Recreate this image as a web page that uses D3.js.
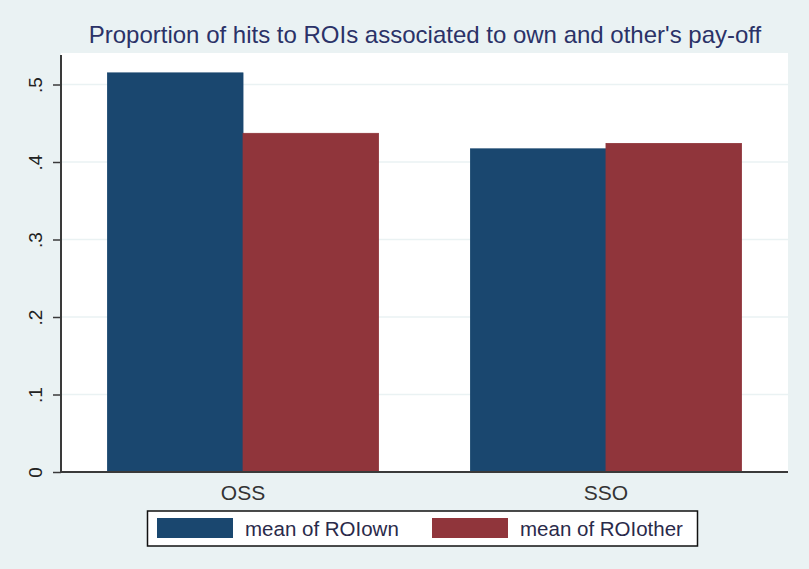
<!DOCTYPE html>
<html><head><meta charset="utf-8">
<script src="https://cdn.jsdelivr.net/npm/d3@7"></script>
<style>body{margin:0;background:#eaf2f3;}svg{display:block;}</style>
</head><body>
<svg id="c" width="809" height="569"></svg>
<script>
const title = "Proportion of hits to ROIs associated to own and other's pay-off";
const categories = ["OSS", "SSO"];
const seriesNames = ["mean of ROIown", "mean of ROIother"];
const roiOwn = [0.515, 0.417];
const roiOther = [0.437, 0.424];
const yTicks = [0, 0.1, 0.2, 0.3, 0.4, 0.5];
const yTickLabels = ["0", ".1", ".2", ".3", ".4", ".5"];
const colors = ["#1a476f", "#90353b"];

const svg = d3.select("#c");
const W = 809, H = 569;
const plot = {l: 61, r: 788, t: 53, b: 472};
const FONT = "Liberation Sans, Arial, sans-serif";
svg.append("rect").attr("width", W).attr("height", H).attr("fill", "#eaf2f3");
svg.append("rect").attr("x", plot.l).attr("y", plot.t).attr("width", plot.r - plot.l).attr("height", plot.b - plot.t).attr("fill", "#ffffff");

const y = d3.scaleLinear().domain([0, 0.5]).range([plot.b, 84.5]);
const x0 = d3.scaleBand().domain(categories).range([plot.l, plot.r]).paddingInner(0.253).paddingOuter(0.128);
const x1 = d3.scaleBand().domain(seriesNames).range([0, x0.bandwidth()]);

// gridlines
svg.append("g").selectAll("line").data(yTicks.filter(d => d > 0)).join("line")
  .attr("x1", plot.l).attr("x2", plot.r).attr("y1", d => y(d)).attr("y2", d => y(d))
  .attr("stroke", "#eaf2f3").attr("stroke-width", 1.5);

// bars
const data = categories.map((c, i) => ({c, vals: [roiOwn[i], roiOther[i]]}));
const g = svg.append("g");
data.forEach(d => {
  d.vals.forEach((v, j) => {
    g.append("rect").attr("x", x0(d.c) + x1(seriesNames[j])).attr("y", y(v))
      .attr("width", x1.bandwidth()).attr("height", y(0) - y(v))
      .attr("fill", colors[j]).attr("stroke", colors[j]).attr("stroke-width", 0.8);
  });
});

// y axis
const yAxis = d3.axisLeft(y).tickValues(yTicks).tickFormat((d, i) => yTickLabels[i]).tickSize(8).tickPadding(0);
const ya = svg.append("g").attr("transform", `translate(${plot.l},0)`).call(yAxis);
ya.select(".domain").attr("d", `M0,${plot.t + 2}V${plot.b}`).attr("stroke", "#3a3a3a").attr("stroke-width", 2);
ya.selectAll(".tick line").attr("stroke", "#3a3a3a").attr("stroke-width", 1.5);
ya.selectAll(".tick text").attr("transform", "translate(-26,0) rotate(-90)").attr("x", 0).attr("dy", "0.35em")
  .attr("text-anchor", "middle").attr("font-family", FONT).attr("font-size", 19).attr("fill", "#222");

// x baseline
svg.append("line").attr("x1", plot.l).attr("x2", plot.r).attr("y1", plot.b).attr("y2", plot.b)
  .attr("stroke", "#3a3a3a").attr("stroke-width", 2);

// category labels
svg.append("g").selectAll("text").data(categories).join("text")
  .attr("x", d => x0(d) + x0.bandwidth() / 2).attr("y", 499.5).attr("text-anchor", "middle")
  .attr("font-family", FONT).attr("font-size", 21).attr("fill", "#333").text(d => d);

// title
svg.append("text").attr("x", 425).attr("y", 43).attr("text-anchor", "middle")
  .attr("font-family", FONT).attr("font-size", 24).attr("fill", "#2b3268").text(title);

// legend
const lg = svg.append("g");
lg.append("rect").attr("x", 147.5).attr("y", 511).attr("width", 550).attr("height", 35)
  .attr("fill", "#ffffff").attr("stroke", "#111").attr("stroke-width", 1.5);
const legX = [157, 432];
seriesNames.forEach((s, j) => {
  lg.append("rect").attr("x", legX[j]).attr("y", 518).attr("width", 76).attr("height", 20).attr("fill", colors[j]);
  lg.append("text").attr("x", legX[j] + 88).attr("y", 536).attr("font-family", FONT)
    .attr("font-size", 20.5).attr("fill", "#2a2a4a").text(s);
});
</script>
</body></html>
